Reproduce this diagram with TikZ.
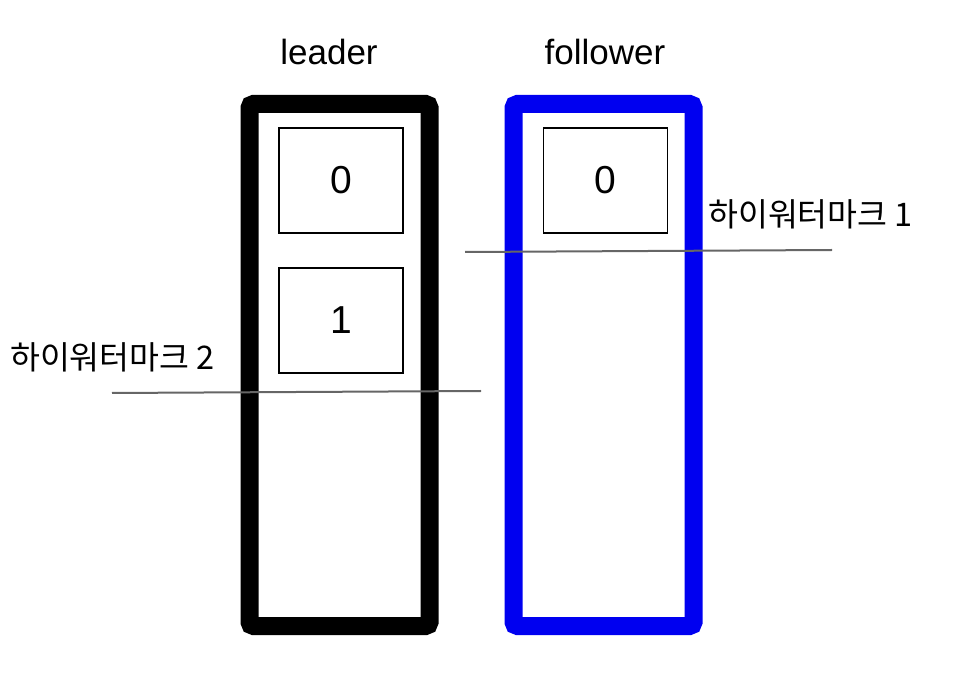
\documentclass[tikz,border=0pt]{standalone}
\usepackage{fontspec}
\setmainfont{Liberation Sans}
\newfontfamily\kofont{Noto Sans CJK KR}
\usepackage{tikz}
\usetikzlibrary{positioning}
\tikzstyle{log} = [rectangle, draw, line width=18pt, rounded corners=4pt,
    minimum width=180pt, minimum height=522pt, inner sep=0pt]
\tikzstyle{entry} = [rectangle, draw, line width=1.5pt, minimum width=124pt,
    minimum height=105pt, inner sep=0pt, font=\fontsize{39}{41}\selectfont]
\tikzstyle{title} = [font=\fontsize{35}{38}\selectfont]
\tikzstyle{wmlabel} = [font=\kofont\fontsize{32.5}{35}\selectfont, inner sep=0pt]
\tikzstyle{hw} = [draw=black!60, line width=2pt]

\begin{document}
\begin{tikzpicture}[x=1pt, y=-1pt]
    \useasboundingbox (0,0) rectangle (978,692);
    % Place nodes
    % Logs
    \node [log] (L) at (339.5,365) {};
    \node [log, draw={rgb,255:red,0;green,0;blue,240}] (F) at (603.5,365) {};
    \node [title] (Lt) at (329,52) {leader};
    \node [title] (Ft) at (605,52) {follower};

    % Entries
    \node [entry] (L0) at (341,180.5) {0};
    \node [entry] (L1) at (341,320.5) {1};
    \node [entry] (F0) at (605.5,180.5) {0};

    % High watermarks
    \coordinate (h1a) at (465,252);
    \coordinate (h1b) at (832,250);
    \coordinate (h2a) at (112,393);
    \coordinate (h2b) at (481,391);
    \draw [hw] (h1a) -- (h1b);
    \draw [hw] (h2a) -- (h2b);
    \node [wmlabel, anchor=west] (m1) at (708,214) {하이워터마크 1};
    \node [wmlabel, anchor=west] (m2) at (10,357) {하이워터마크 2};
\end{tikzpicture}
\end{document}
